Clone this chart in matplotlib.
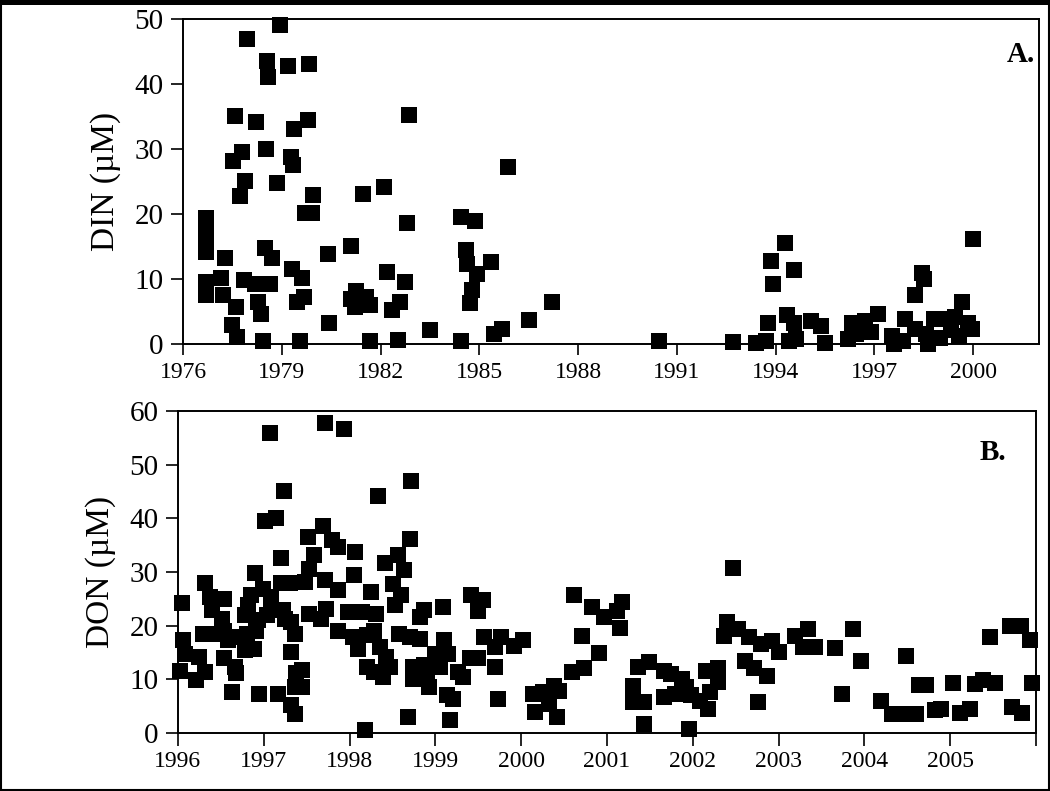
import matplotlib
matplotlib.use("Agg")
import matplotlib.pyplot as plt
from matplotlib.patches import Rectangle

plt.rcParams['font.family'] = ['Liberation Serif', 'DejaVu Serif']

# Panel A: DIN, 1976-2000
din_year = [1978.95, 1977.94, 1978.56, 1978.59, 1979.19, 1979.84, 1977.58, 1978.22, 1979.37, 1979.80,
            1982.85, 1977.78, 1977.53, 1978.52, 1979.27, 1979.33, 1977.88, 1977.73, 1978.85, 1979.96,
            1981.48, 1982.12, 1979.71, 1979.91, 1982.80, 1984.45, 1976.69, 1976.69, 1976.69, 1976.69,
            1977.28, 1978.49, 1978.71, 1980.40, 1981.10, 1979.30, 1979.61, 1979.66, 1979.45, 1976.69,
            1976.69, 1977.15, 1977.22, 1977.61, 1977.84, 1978.19, 1978.64, 1978.29, 1978.37, 1977.48,
            1977.63, 1978.44, 1979.56, 1980.42, 1981.26, 1981.23, 1981.68, 1981.10, 1981.56, 1981.68,
            1982.19, 1982.73, 1982.34, 1982.60, 1982.53, 1983.51, 1984.45, 1984.88, 1984.59, 1984.62,
            1985.35, 1984.92, 1984.77, 1984.71, 1985.87, 1985.46, 1985.70, 1986.51, 1987.20, 1990.45,
            1992.71, 1993.41, 1993.70, 1993.76, 1993.85, 1993.93, 1994.29, 1994.57, 1994.36, 1994.40,
            1994.63, 1994.57, 1995.09, 1995.38, 1995.50, 1996.19, 1996.31, 1996.72, 1997.12, 1996.43,
            1996.89, 1997.53, 1997.59, 1997.88, 1997.94, 1998.23, 1998.46, 1998.51, 1998.23, 1998.63,
            1998.81, 1999.10, 1999.33, 1999.56, 1999.67, 1999.85, 1999.97, 2000.00, 1998.98, 1999.45,
            1998.57]
din_val = [49.1, 46.9, 43.6, 41.1, 42.7, 43.0, 35.0, 34.1, 33.0, 34.4,
           35.2, 29.6, 28.1, 30.0, 28.8, 27.5, 25.0, 22.8, 24.7, 22.9,
           23.0, 24.2, 20.1, 20.1, 18.6, 19.6, 19.4, 17.5, 16.0, 14.2,
           13.2, 14.7, 13.2, 13.8, 15.0, 11.6, 10.1, 7.3, 6.5, 9.6,
           7.5, 10.1, 7.5, 5.7, 9.8, 9.3, 9.3, 6.5, 4.6, 2.9,
           1.1, 0.4, 0.4, 3.2, 8.1, 5.7, 6.0, 6.9, 7.3, 0.4,
           11.1, 9.6, 5.2, 6.5, 0.6, 2.2, 0.4, 18.9, 14.4, 12.3,
           12.6, 10.8, 8.3, 6.3, 27.2, 1.5, 2.3, 3.7, 6.5, 0.5,
           0.3, 0.1, 0.5, 3.2, 12.8, 9.3, 15.5, 11.4, 4.4, 0.4,
           0.8, 3.2, 3.6, 2.7, 0.1, 0.8, 3.3, 3.5, 4.6, 1.5,
           1.8, 1.3, 0.0, 0.5, 3.8, 7.6, 11.0, 10.0, 2.3, 0.0,
           3.8, 3.8, 2.1, 1.3, 6.4, 3.3, 2.3, 16.2, 1.0, 4.1,
           1.5]

# Panel B: DON, 1996-2006
don_year = [1997.07, 1997.23, 1997.01, 1997.14, 1997.20, 1996.90, 1996.32, 1996.05, 1996.37, 1996.54,
            1996.40, 1996.51, 1996.85, 1996.82, 1996.78, 1996.99, 1997.09, 1997.20, 1997.30, 1997.04,
            1997.22, 1997.32, 1997.36, 1997.32, 1997.37, 1997.36, 1997.17, 1996.95, 1996.63, 1997.32,
            1997.36, 1996.06, 1996.08, 1996.02, 1996.21, 1996.31, 1996.25, 1996.29, 1996.42, 1996.54,
            1996.58, 1996.68, 1996.80, 1996.91, 1996.89, 1996.78, 1996.54, 1996.66, 1996.68, 1996.93,
            1997.09, 1997.25,
            1997.71, 1997.93, 1998.72, 1998.33, 1997.69, 1997.52, 1997.79, 1997.86, 1998.06, 1997.59,
            1998.70, 1998.56, 1998.41, 1998.64, 1997.53, 1997.71, 1998.05, 1997.48, 1997.86, 1998.25,
            1998.51, 1998.60, 1998.53, 1997.73, 1997.53, 1997.67, 1997.98, 1998.14, 1998.31, 1997.86,
            1998.04, 1998.20, 1998.29, 1998.10, 1998.35, 1998.43, 1998.20, 1998.29, 1998.39, 1998.47,
            1998.58, 1998.70, 1998.74, 1998.74, 1998.68, 1998.18, 1997.44, 1997.44,
            1999.41, 1999.55, 1999.50, 1999.09, 1998.87, 1998.82, 1998.82, 1999.10, 1999.57, 1999.77,
            1999.92, 2000.02, 1999.69, 1998.99, 1999.15, 1999.40, 1999.50, 1998.87, 1999.05, 1999.26,
            1999.32, 1999.69, 1998.90, 1998.93, 1999.13, 1999.21, 1999.73, 2000.14, 2000.16, 1999.17,
            2002.47, 2000.62, 2000.82, 2000.97, 2001.18, 2001.12, 2001.15, 2000.71, 2000.91, 2000.73,
            2000.59, 2000.26, 2000.44, 2000.38, 2000.32, 2000.42, 2001.36, 2001.49, 2001.30, 2001.30,
            2001.43, 2001.43, 2001.67, 2001.75, 2001.88, 2001.92, 2001.67, 2001.79, 2001.98, 2002.08,
            2002.18, 2001.96, 2002.16, 2002.29, 2002.29, 2002.20, 2002.40, 2002.37, 2002.53, 2002.65,
            2002.61, 2002.71, 2002.86, 2002.80, 2002.92, 2003.01, 2002.76, 2003.19, 2003.34, 2003.29,
            2003.43, 2003.66, 2003.74, 2003.87, 2003.96, 2004.20, 2004.32, 2004.48, 2004.50, 2004.60,
            2004.64, 2004.72, 2004.82, 2004.89, 2005.03, 2005.11, 2005.23, 2005.29, 2005.38, 2005.52,
            2005.46, 2005.70, 2005.83, 2005.72, 2005.84, 2005.93, 2005.96]
don_val = [55.9, 45.1, 39.5, 40.1, 32.7, 29.9, 27.9, 24.3, 25.3, 24.9,
           22.9, 21.3, 25.8, 23.8, 21.9, 26.9, 25.3, 27.9, 27.9, 21.9,
           22.9, 20.7, 18.5, 15.1, 11.1, 8.6, 7.3, 7.2, 7.6, 5.2,
           3.6, 17.3, 14.8, 11.6, 9.8, 11.4, 14.2, 18.5, 18.5, 19.1,
           17.3, 17.9, 18.5, 19.1, 15.7, 15.4, 13.9, 12.3, 11.1, 21.0,
           23.5, 21.3,
           57.8, 56.7, 46.9, 44.2, 38.5, 36.5, 35.9, 34.7, 33.7, 33.1,
           36.2, 33.1, 31.7, 30.3, 30.6, 28.5, 29.4, 28.1, 26.6, 26.3,
           27.8, 25.7, 23.8, 23.2, 22.2, 21.3, 22.5, 22.5, 22.2, 19.1,
           17.9, 18.2, 19.1, 15.7, 16.0, 14.2, 12.3, 11.4, 10.4, 12.3,
           18.5, 17.9, 12.3, 10.1, 3.0, 0.5, 11.7, 8.6,
           25.8, 24.7, 22.7, 23.4, 22.9, 21.6, 17.6, 17.4, 17.9, 17.8,
           16.3, 17.3, 16.0, 14.8, 14.8, 13.9, 13.9, 12.6, 12.3, 11.4,
           10.4, 12.3, 10.1, 8.6, 7.0, 6.4, 6.4, 7.3, 3.9, 2.5,
           30.8, 25.8, 23.5, 21.6, 24.4, 22.8, 19.6, 18.0, 14.9, 12.1,
           11.3, 7.6, 7.9, 8.8, 5.4, 2.9, 12.3, 13.2, 8.8, 5.7,
           5.7, 1.7, 11.6, 11.0, 10.1, 8.5, 6.7, 7.3, 7.0, 6.0,
           4.5, 0.7, 11.6, 12.1, 9.5, 7.6, 20.7, 18.0, 19.4, 17.9,
           13.5, 12.1, 10.7, 16.6, 17.2, 15.1, 5.7, 18.0, 19.4, 16.0,
           16.0, 15.9, 7.3, 19.4, 13.5, 5.9, 3.5, 14.4, 3.5, 3.5,
           9.0, 9.0, 4.2, 4.5, 9.3, 3.7, 4.5, 9.1, 9.9, 9.3,
           17.9, 20.0, 20.0, 4.9, 3.7, 17.4, 9.3]

din_ticks = list(range(1976, 2001, 3))
don_ticks = list(range(1996, 2007))
don_ticklabels = [str(y) for y in range(1996, 2006)] + ['']

fig = plt.figure(figsize=(10.5, 7.91), dpi=100)
axA = fig.add_axes([0.1743, 0.5651, 0.8152, 0.4109])
axB = fig.add_axes([0.1695, 0.0733, 0.8171, 0.4071])

mk = dict(marker='s', linestyle='none', color='black', markersize=11,
          markeredgewidth=0, clip_on=False, zorder=3)

axA.plot(din_year, din_val, **mk)
axA.set_xlim(1976, 2002)
axA.set_ylim(0, 50)
axA.set_xticks(din_ticks)
axA.set_yticks(range(0, 51, 10))
axA.set_ylabel('DIN (\u00b5M)', fontsize=24, labelpad=10)
axA.tick_params(axis='x', labelsize=17, length=8, width=1.2, direction='out', pad=5)
axA.tick_params(axis='y', labelsize=21, length=9, width=1.2, direction='out', pad=5)
axA.text(0.995, 0.89, 'A.', transform=axA.transAxes, ha='right', va='center',
         fontsize=21, fontweight='bold')

axB.plot(don_year, don_val, **mk)
axB.set_xlim(1996, 2006)
axB.set_ylim(0, 60)
axB.set_xticks(don_ticks)
axB.set_xticklabels(don_ticklabels)
axB.set_yticks(range(0, 61, 10))
axB.set_ylabel('DON (\u00b5M)', fontsize=24, labelpad=10)
axB.tick_params(axis='x', labelsize=17, length=9, width=1.2, direction='out', pad=4)
axB.tick_params(axis='y', labelsize=21, length=9, width=1.2, direction='out', pad=5)
axB.text(0.965, 0.87, 'B.', transform=axB.transAxes, ha='right', va='center',
         fontsize=21, fontweight='bold')

for ax in (axA, axB):
    for s in ax.spines.values():
        s.set_linewidth(1.4)

# figure frame
fig.patches.append(Rectangle((0.001, 0.001), 0.998, 0.995, transform=fig.transFigure,
                             fill=False, edgecolor='black', linewidth=1.5))
fig.patches.append(Rectangle((0, 0.994), 1, 0.006, transform=fig.transFigure,
                             facecolor='black', edgecolor='none'))

fig.savefig('out.png', dpi=100)
